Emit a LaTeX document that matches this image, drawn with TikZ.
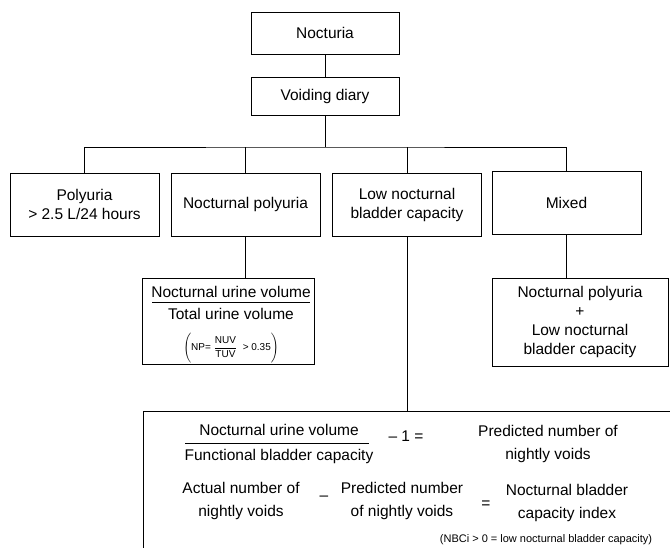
\documentclass[tikz,border=0pt]{standalone}
\usepackage{amsmath}
\usepackage{fontspec}
\setmainfont{Liberation Sans}
\usetikzlibrary{positioning, calc}

\begin{document}
\begin{tikzpicture}[x=1pt, y=-1pt, every node/.style={font=\fontsize{15.5}{19}\selectfont}]
    \tikzstyle{block} = [rectangle, draw, line width=0.8pt, inner sep=0pt, align=center, minimum width=149pt, minimum height=63pt]
    \tikzstyle{line} = [draw, line width=0.8pt]
    \tikzstyle{txt} = [inner sep=0pt, align=center, font=\fontsize{15.5}{23}\selectfont]
    \tikzstyle{small} = [inner sep=0pt, font=\fontsize{10}{12}\selectfont]

    \path [use as bounding box, fill=white] (0,0) rectangle (670,548);

    \node [block, minimum width=148pt, minimum height=42pt] (nocturia) at (325,33) {Nocturia};
    \node [block, minimum width=148pt, minimum height=38pt] (diary) at (325,96) {Voiding diary};
    \coordinate (split) at (325,147);

    \node [block] (polyuria) at (84.5,204.5) {Polyuria\\> 2.5 L/24 hours};
    \node [block] (noctpoly) at (245.5,204.5) {Nocturnal polyuria};
    \node [block] (lowcap) at (407,204.5) {Low nocturnal\\bladder capacity};
    \node [block] (mixed) at (566.5,203) {Mixed};

    \path [line] (nocturia) -- (diary);
    \path [line] (diary) -- (split);
    \path [line] (polyuria.north) |- (split) -| (mixed.north);
    \path [line] (noctpoly.north) -- (noctpoly.north |- split);
    \path [line] (lowcap.north) -- (lowcap.north |- split);

    \node [block, minimum width=172pt, minimum height=86pt] (npratio) at (228,321) {};
    \node [txt, anchor=mid] (npnum) at (231,295) {Nocturnal urine volume};
    \node [txt, anchor=mid] (npden) at (231,317) {Total urine volume};
    \coordinate (npruleL) at (152,302);
    \coordinate (npruleR) at (310,302);
    \path [line] (npruleL) -- (npruleR);
    \node [small] (npformula) at (231,348) {$\Biggl(\mbox{NP= }\dfrac{\mbox{NUV}}{\mbox{TUV}}\mbox{ \ > 0.35}\Biggr)$};

    \node [block, minimum width=176pt, minimum height=88pt, font=\fontsize{15.5}{18.7}\selectfont] (combo) at (580,322) {Nocturnal polyuria\\+\\Low nocturnal\\bladder capacity};

    \path [line] (noctpoly.south) -- (noctpoly.south |- npratio.north);
    \path [line] (mixed.south) -- (mixed.south |- combo.north);

    \node [block, anchor=north west, minimum width=560pt, minimum height=150pt] (nbci) at (143,411) {};
    \path [line] (lowcap.south) -- (lowcap.south |- nbci.north);

    \node [txt, anchor=mid] (fnum) at (279,433) {Nocturnal urine volume};
    \node [txt, anchor=mid] (fden) at (279,458) {Functional bladder capacity};
    \coordinate (fruleL) at (185,443);
    \coordinate (fruleR) at (369,443);
    \path [line] (fruleL) -- (fruleR);
    \node [txt, anchor=mid] (minusone) at (406,439) {– 1 =};
    \node [txt] (predicted) at (548,444) {Predicted number of\\nightly voids};

    \node [txt] (actual) at (241,501) {Actual number of\\nightly voids};
    \node [txt, anchor=mid] (minus) at (324,498) {–};
    \node [txt] (predictedb) at (402,501) {Predicted number\\of nightly voids};
    \node [txt, anchor=mid] (equals) at (486,506) {=};
    \node [txt] (index) at (567,503) {Nocturnal bladder\\capacity index};
    \node [small, font=\fontsize{11}{13}\selectfont, anchor=mid] (note) at (546,540) {(NBCi > 0 = low nocturnal bladder capacity)};
\end{tikzpicture}
\end{document}
